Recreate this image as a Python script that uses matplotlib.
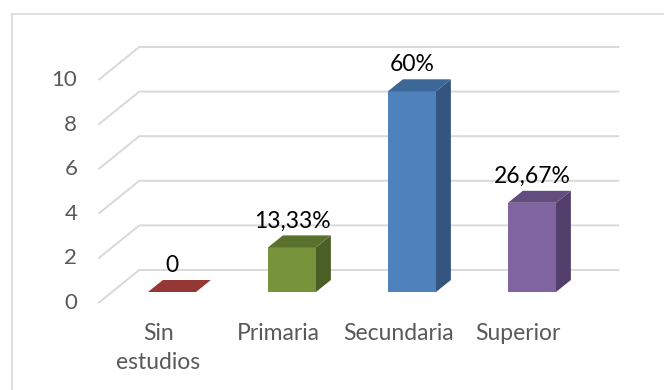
import matplotlib.pyplot as plt
from matplotlib.patches import Polygon
from matplotlib.lines import Line2D

# Nivel de estudios
categorias = ["Sin\nestudios", "Primaria", "Secundaria", "Superior"]
frecuencia = [0, 2, 9, 4]
etiquetas = ["0", "13,33%", "60%", "26,67%"]
ticks_y = [0, 2, 4, 6, 8, 10]

cara = ["#C0504D", "#77933C", "#4F81BD", "#8064A2"]
techo = ["#953735", "#5A712E", "#3C6797", "#634C7E"]
lado = ["#7F2E2C", "#4B5E26", "#33557F", "#533F6C"]

W, H, DPI = 664, 390, 100
fig = plt.figure(figsize=(W / DPI, H / DPI), dpi=DPI)
ax = fig.add_axes([0, 0, 1, 1])

# escala: una categoria = 120 px, una unidad = 22.3 px
PX_X, PX_Y = 120.0, 22.3
X0, Y0 = 172, 292
ax.set_xlim(-X0 / PX_X, (W - X0) / PX_X)
ax.set_ylim(-(H - Y0) / PX_Y, Y0 / PX_Y)
ax.axis("off")

# profundidades (px de subida) del eje, del fondo de la barra y de la pared
T_EJE, T_BARRA, T_PARED = -11, 12, 22


def fondo(x, y, t):
    return x + 1.24 * t / PX_X, y + t / PX_Y


FUENTE = "Lato"
GRIS = "#D9D9D9"
n = len(categorias)

# rejilla en la pared del fondo y lineas diagonales del lateral
for v in ticks_y:
    xa, ya = fondo(-0.5, v, T_EJE)
    xb, yb = fondo(-0.5, v, T_PARED)
    xc, yc = fondo(n - 0.5, v, T_PARED)
    ax.plot([xa, xb, xc], [ya, yb, yc], color=GRIS, lw=1.4, zorder=1,
            solid_capstyle="butt")
    ax.text(xa - 21 / PX_X, ya, str(v), ha="right", va="center",
            fontsize=16, color="#595959", family=FUENTE)

# barras 3D: cara frontal, lateral y techo
ancho = 0.4
xs = list(range(n))
ax.bar(xs, frecuencia, width=ancho, color=cara, zorder=3)
for x, v, ct, cl in zip(xs, frecuencia, techo, lado):
    xr, xl = x + ancho / 2, x - ancho / 2
    lat = [(xr, 0), fondo(xr, 0, T_BARRA), fondo(xr, v, T_BARRA), (xr, v)]
    top = [(xl, v), (xr, v), fondo(xr, v, T_BARRA), fondo(xl, v, T_BARRA)]
    ax.add_patch(Polygon(lat, closed=True, color=cl, lw=0, zorder=3))
    ax.add_patch(Polygon(top, closed=True, color=ct, lw=0, zorder=4))

# etiquetas de datos
for x, v, txt in zip(xs, frecuencia, etiquetas):
    ax.text(x, v + (T_BARRA + 8) / PX_Y, txt, ha="center", va="baseline",
            fontsize=16.5, color="black", family=FUENTE, zorder=5)

# categorias en el plano del eje
for x, c in zip(xs, categorias):
    xe, ye = fondo(x, 0, T_EJE)
    ax.text(xe, ye - 20 / PX_Y, c, ha="center", va="top", fontsize=16.5,
            color="#595959", family=FUENTE, linespacing=1.45)

# marco del grafico
fig.add_artist(Line2D([12 / W, 12 / W], [0, 1 - 14 / H], transform=fig.transFigure,
                      color=GRIS, lw=1.2))
fig.add_artist(Line2D([12 / W, 1], [1 - 14 / H, 1 - 14 / H], transform=fig.transFigure,
                      color=GRIS, lw=1.2))

fig.savefig("out.png", dpi=DPI, facecolor="white")
